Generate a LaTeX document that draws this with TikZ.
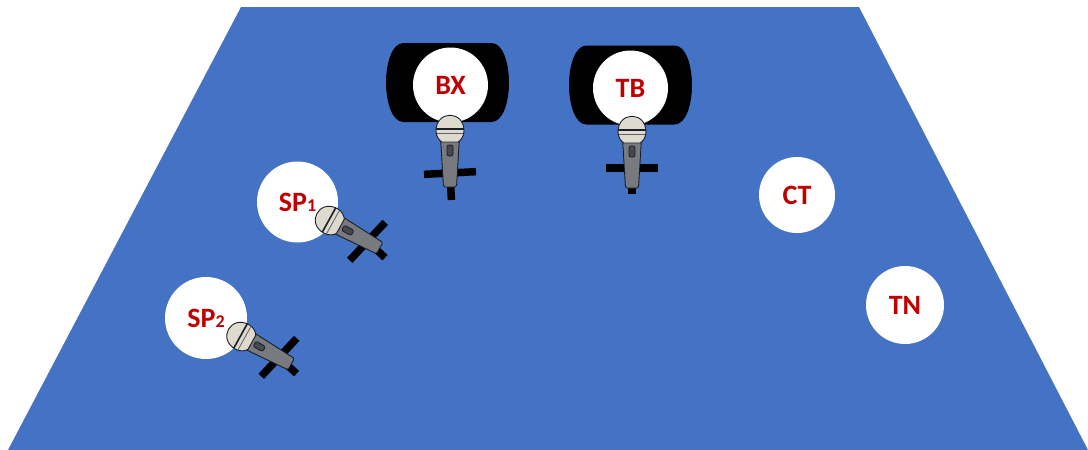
\documentclass[tikz,border=0pt]{standalone}
\usepackage{fontspec}
\setmainfont{Carlito}
\definecolor{StageClr}{RGB}{68,114,196}
\definecolor{LabelClr}{RGB}{192,0,0}
\definecolor{HeadClr}{RGB}{222,218,206}
\definecolor{BodyClr}{RGB}{120,122,128}
\definecolor{EdgeClr}{RGB}{25,30,40}
\tikzset{
  player/.style={circle,fill=white,inner sep=0pt,text=LabelClr,
    font=\fontsize{28}{28}\selectfont\bfseries},
  pics/speaker/.style={code={
    \fill[black] (-44,-39.5) -- (44,-39.5) .. controls (56,-39.5) and (61.5,-18) .. (61.5,0)
      .. controls (61.5,18) and (56,39.5) .. (44,39.5) -- (-44,39.5)
      .. controls (-56,39.5) and (-61.5,18) .. (-61.5,0)
      .. controls (-61.5,-18) and (-56,-39.5) .. (-44,-39.5) -- cycle;
  }},
  pics/mic/.style n args={3}{code={
    \draw[black,line width=7.5pt,rotate around={#3:(0,#1)}] (-26,#1) -- (26,#1);
    \draw[black,line width=7.5pt,rotate around={#3:(0,#1)}] (0,#1) -- (0,#2);
    \draw[EdgeClr,fill=BodyClr,line width=.9pt,rounded corners=1.5pt]
      (-9.5,8) -- (-6.5,58) -- (6.5,58) -- (9.5,8) -- cycle;
    \draw[EdgeClr,fill=BodyClr!60!black,line width=.8pt,rounded corners=2pt]
      (-3,16) rectangle (3,27);
    \draw[EdgeClr,fill=HeadClr,line width=.9pt] (-14,2) .. controls (-14,-19) and (14,-19) .. (14,2)
      .. controls (14,8) and (10,12) .. (8,13) -- (-8,13) .. controls (-10,12) and (-14,8) .. (-14,2) -- cycle;
    \draw[EdgeClr,line width=1.6pt] (-14,0) -- (14,0);
    \draw[EdgeClr!70,line width=.8pt] (-13,4.5) -- (13,4.5);
  }}
}
\begin{document}
\begin{tikzpicture}[x=1pt,y=-1pt]
\useasboundingbox (0,0) rectangle (1088,450);
\fill[StageClr] (241,7) -- (859,7) -- (1088,450) -- (8,450) -- cycle;

\pic at (447.5,82.5) {speaker};
\pic at (630.5,85) {speaker};

\node[player,minimum size=75pt] (BX) at (450.5,85) {BX};
\node[player,minimum size=75pt] (TB) at (630.5,88) {TB};
\node[player,minimum size=81pt] (SP1) at (297.5,202) {SP{\fontsize{18}{18}\selectfont 1}};
\node[player,minimum size=82pt] (SP2) at (206,318) {SP{\fontsize{18}{18}\selectfont 2}};
\node[player,minimum size=76pt] (CT) at (797,195) {CT};
\node[player,minimum size=78pt] (TN) at (905,305) {TN};

\pic at (450,129) {mic={44}{71}{3}};
\pic at (632,130) {mic={38}{64}{0}};
\pic[rotate=61] at (329,220) {mic={44}{68}{-14}};
\pic[rotate=61] at (240.5,336) {mic={44}{68}{-14}};

\end{tikzpicture}
\end{document}
